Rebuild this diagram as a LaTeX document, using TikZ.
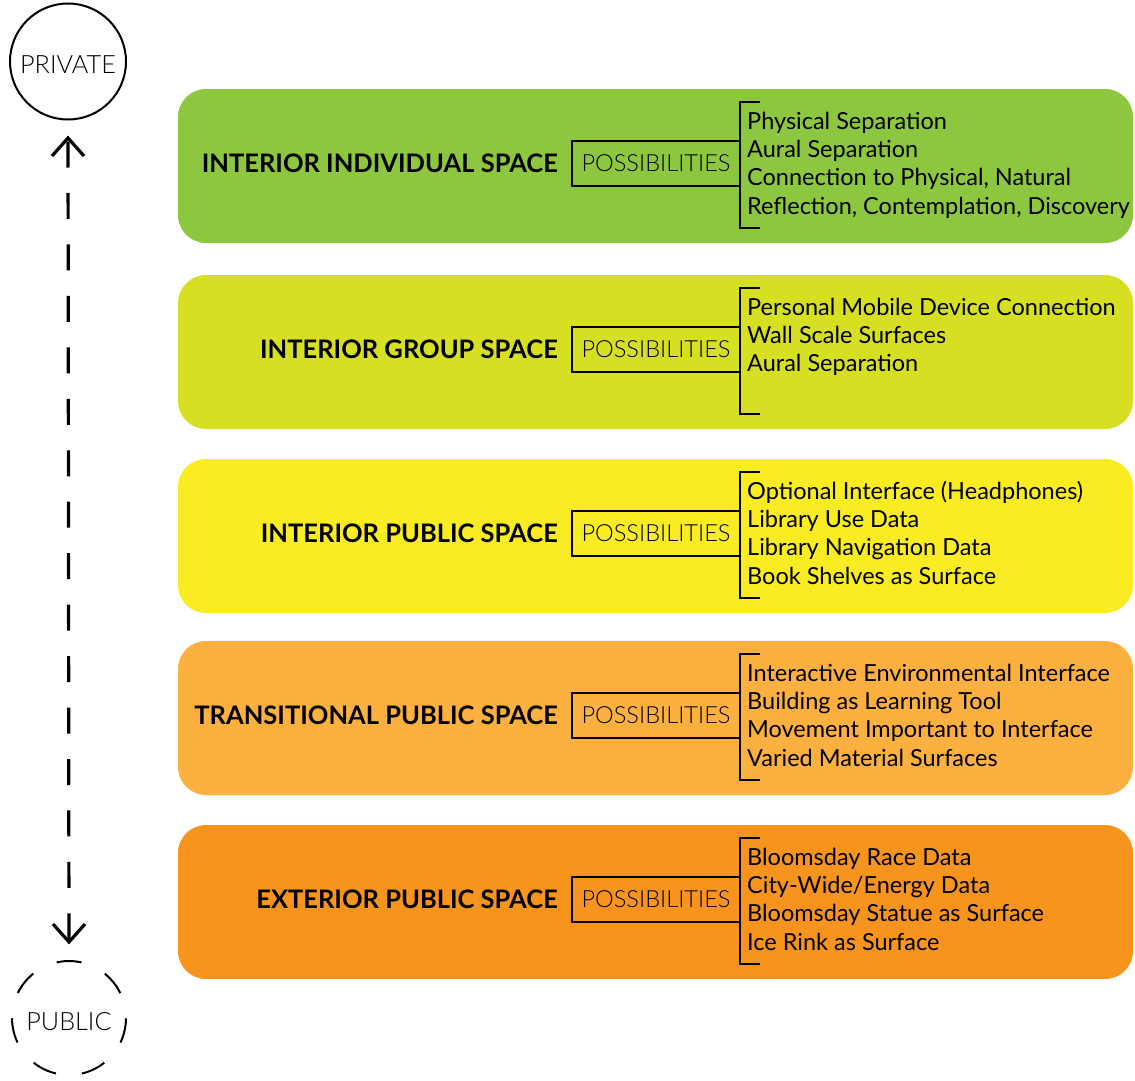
\documentclass[tikz,border=0pt]{standalone}
\usepackage{fontspec}
\setmainfont{Lato}
\newfontfamily\lightfont{Lato Light}
\usetikzlibrary{calc}
\definecolor{cA}{HTML}{8DC63F}
\definecolor{cB}{HTML}{D7DF23}
\definecolor{cC}{HTML}{F9EC23}
\definecolor{cD}{HTML}{FBB040}
\definecolor{cE}{HTML}{F7941E}
\newcommand\spaceband[4]{%
  \node[band=#3] (#1) at (178,#2) {};
  \node[bandtitle] (#1t) at ($(#1.north west)+(380,83)$) {#4};
  \node[possbox] (#1p) at ($(#1.north west)+(394,52)$) {POSSIBILITIES};
  \coordinate (#1a) at ($(#1.north west)+(582,13)$);
  \coordinate (#1b) at ($(#1.north west)+(582,139)$);
  \draw[brk] (#1a) -- ++(-20,0) -- ($(#1b)+(-20,0)$) -- (#1b);
}
\newcommand\bitem[3]{\node[item] (#1i#2) at ($(#1.north west)+(569,{40+28.4*#2})$) {#3};}
\begin{document}
\begin{tikzpicture}[x=1pt,y=-1pt,
  band/.style={fill=#1, draw=none, rounded corners=28pt, minimum width=955pt,
    minimum height=154pt, anchor=north west, inner sep=0pt, outer sep=0pt},
  bandtitle/.style={anchor=base east, inner sep=0pt, font=\fontsize{25.5}{30}\selectfont\bfseries},
  possbox/.style={draw, line width=2pt, minimum width=168pt, minimum height=45pt,
    inner sep=0pt, outer sep=0pt, anchor=north west, font=\lightfont\fontsize{23.6}{28}\selectfont},
  item/.style={anchor=base west, inner sep=0pt, font=\fontsize{23.5}{28}\selectfont},
  brk/.style={line width=2pt},
  endcircle/.style={circle, draw, line width=2pt, inner sep=0pt, outer sep=0pt,
    text height=24pt, text depth=0pt, font=\lightfont\fontsize{25.2}{30}\selectfont},
  scaleline/.style={line width=3.2pt, dash pattern=on 26pt off 25.46pt},
  chev/.style={line width=3.2pt, miter limit=10},
]
\useasboundingbox (0,0) rectangle (1135,1081);
\node[endcircle, minimum size=116pt] (priv) at (68,61.5) {PRIVATE};
\node[endcircle, minimum size=114pt, dash pattern=on 25pt off 26.16pt, dash phase=25.4pt] (pub) at (69,1018) {PUBLIC};
\draw[scaleline, shorten <=22pt, shorten >=21.5pt] (priv.south) -- (pub.north);
\draw[chev] ($(priv.south)+(-16,36.5)$) -- ($(priv.south)+(0,18.5)$) -- ($(priv.south)+(16,36.5)$);
\draw[chev] ($(pub.north)+(-16,-37)$) -- ($(pub.north)+(0,-19)$) -- ($(pub.north)+(16,-37)$);

\spaceband{b1}{89}{cA}{INTERIOR INDIVIDUAL SPACE}
\bitem{b1}{0}{Physical Separation}
\bitem{b1}{1}{Aural Separation}
\bitem{b1}{2}{Connection to Physical, Natural}
\bitem{b1}{3}{Reflection, Contemplation, Discovery}

\spaceband{b2}{275}{cB}{INTERIOR GROUP SPACE}
\bitem{b2}{0}{Personal Mobile Device Connection}
\bitem{b2}{1}{Wall Scale Surfaces}
\bitem{b2}{2}{Aural Separation}

\spaceband{b3}{459}{cC}{INTERIOR PUBLIC SPACE}
\bitem{b3}{0}{Optional Interface (Headphones)}
\bitem{b3}{1}{Library Use Data}
\bitem{b3}{2}{Library Navigation Data}
\bitem{b3}{3}{Book Shelves as Surface}

\spaceband{b4}{641}{cD}{TRANSITIONAL PUBLIC SPACE}
\bitem{b4}{0}{Interactive Environmental Interface}
\bitem{b4}{1}{Building as Learning Tool}
\bitem{b4}{2}{Movement Important to Interface}
\bitem{b4}{3}{Varied Material Surfaces}

\spaceband{b5}{825}{cE}{EXTERIOR PUBLIC SPACE}
\bitem{b5}{0}{Bloomsday Race Data}
\bitem{b5}{1}{City-Wide/Energy Data}
\bitem{b5}{2}{Bloomsday Statue as Surface}
\bitem{b5}{3}{Ice Rink as Surface}
\end{tikzpicture}
\end{document}
